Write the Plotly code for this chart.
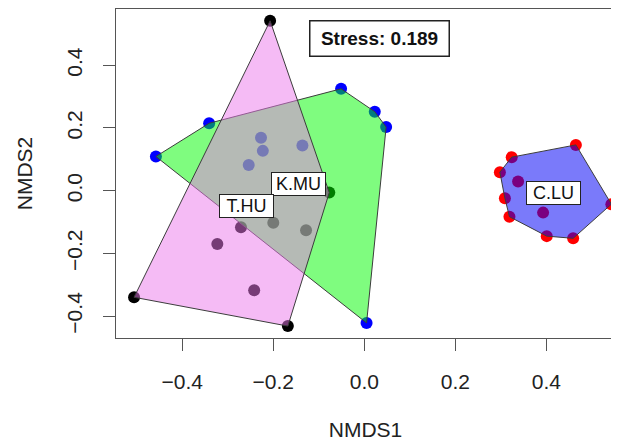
import plotly.graph_objects as go

# ---- data ----
groups = ["K.MU", "T.HU", "C.LU"]

kmu_x = [-0.458, -0.341, -0.051, 0.023, 0.048, 0.005, -0.227, -0.223, -0.254, -0.136]
kmu_y = [0.109, 0.215, 0.325, 0.252, 0.203, -0.422, 0.169, 0.127, 0.082, 0.144]

thu_x = [-0.207, -0.506, -0.168, -0.077, -0.271, -0.323, -0.242, -0.200, -0.128]
thu_y = [0.542, -0.340, -0.432, -0.006, -0.117, -0.170, -0.318, -0.102, -0.126]

clu_x = [0.465, 0.543, 0.459, 0.401, 0.319, 0.309, 0.298, 0.324, 0.338, 0.393]
clu_y = [0.146, -0.043, -0.152, -0.145, -0.083, -0.024, 0.059, 0.107, 0.029, -0.070]

label_x = [-0.144, -0.259, 0.416]
label_y = [0.022, -0.048, -0.006]

stress_value = 0.189

x_ticks = [-0.4, -0.2, 0.0, 0.2, 0.4]
y_ticks = [-0.4, -0.2, 0.0, 0.2, 0.4]

# ---- styles ----
point_colors = {"K.MU": "#0000ff", "T.HU": "#000000", "C.LU": "#ff0000"}
hull_fills = {"K.MU": "rgba(0,250,0,0.5)", "T.HU": "rgba(235,120,235,0.5)", "C.LU": "rgba(0,0,245,0.52)"}

data = {"K.MU": (kmu_x, kmu_y), "T.HU": (thu_x, thu_y), "C.LU": (clu_x, clu_y)}


def convex_hull(xs, ys):
    pts = sorted(set(zip(xs, ys)))
    def cross(o, a, b):
        return (a[0]-o[0])*(b[1]-o[1]) - (a[1]-o[1])*(b[0]-o[0])
    lower, upper = [], []
    for p in pts:
        while len(lower) >= 2 and cross(lower[-2], lower[-1], p) <= 0:
            lower.pop()
        lower.append(p)
    for p in reversed(pts):
        while len(upper) >= 2 and cross(upper[-2], upper[-1], p) <= 0:
            upper.pop()
        upper.append(p)
    hull = lower[:-1] + upper[:-1]
    hull.append(hull[0])
    return [p[0] for p in hull], [p[1] for p in hull]


fig = go.Figure()

# points first (hulls are drawn translucent on top, as in the original)
for g in ["T.HU", "K.MU", "C.LU"]:
    xs, ys = data[g]
    fig.add_trace(go.Scatter(x=xs, y=ys, mode="markers",
                             marker=dict(size=12, color=point_colors[g]),
                             showlegend=False, hoverinfo="skip"))

for g in ["K.MU", "T.HU", "C.LU"]:
    hx, hy = convex_hull(*data[g])
    fig.add_trace(go.Scatter(x=hx, y=hy, mode="lines", fill="toself",
                             fillcolor=hull_fills[g],
                             line=dict(color="#3c3c3c", width=1),
                             showlegend=False, hoverinfo="skip"))

for g, lx, ly in zip(groups, label_x, label_y):
    fig.add_annotation(x=lx, y=ly, text=g, showarrow=False,
                       font=dict(family="Liberation Sans, Arial", size=18, color="#111"),
                       bgcolor="white", bordercolor="#222", borderwidth=1,
                       borderpad=1, width=51, height=20)

fig.add_annotation(x=0.034, y=0.486, text=f"<b>Stress: {stress_value}</b>", showarrow=False,
                   font=dict(family="Liberation Sans, Arial", size=19, color="#111"),
                   bgcolor="white", bordercolor="#222", borderwidth=1.5,
                   borderpad=1, width=136, height=32)

axis_common = dict(showline=True, mirror=True, linecolor="#555", linewidth=1,
                   ticks="outside", ticklen=12, tickcolor="#555", tickwidth=1,
                   showgrid=False, zeroline=False, automargin=False,
                   tickfont=dict(family="Liberation Sans, Arial", size=21, color="#222"),
                   tickformat=".1f")

# the page body adds an 8px margin, so the figure is sized to fit inside it
fig.update_layout(
    width=611, height=435,
    margin=dict(l=108, r=4, t=1, b=105),
    paper_bgcolor="white", plot_bgcolor="white",
    xaxis=dict(range=[-0.5457, 0.551], tickvals=x_ticks, ticklabelstandoff=13,
               title=dict(text="NMDS1", standoff=30,
                          font=dict(family="Liberation Sans, Arial", size=21, color="#222")),
               **axis_common),
    yaxis=dict(range=[-0.470, 0.5796], tickvals=y_ticks, tickangle=-90, ticklabelstandoff=13,
               title=dict(text="NMDS2", standoff=24,
                          font=dict(family="Liberation Sans, Arial", size=21, color="#222")),
               **axis_common),
)

fig.write_html("out.html")
